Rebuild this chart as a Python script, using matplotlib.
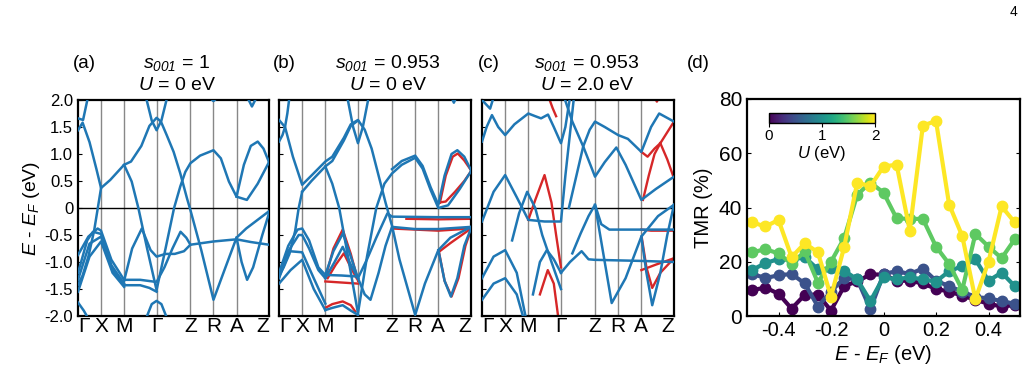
import matplotlib
matplotlib.use("Agg")
import matplotlib.pyplot as plt
import numpy as np
from matplotlib import cm, colors

plt.rcParams['font.family'] = ['Liberation Sans', 'DejaVu Sans']
plt.rcParams['mathtext.fontset'] = 'custom'
plt.rcParams['mathtext.rm'] = 'Liberation Sans:italic'
plt.rcParams['mathtext.it'] = 'Liberation Sans:italic'
plt.rcParams['axes.unicode_minus'] = False

# high symmetry path
kpts = [0, 1, 2, 3.41, 4.88, 5.88, 6.88, 8.29]
klabels = ['Γ', 'X', 'M', 'Γ', 'Z', 'R', 'A', 'Z']

# bands, (k, E) pairs
bands_a = [
    [(0, 1.44), (0.2, 1.58), (0.5, 1.22), (0.8, 0.72), (1.0, 0.37), (1.4, 0.52), (2.0, 0.8), (2.3, 0.86),
     (2.75, 1.15), (3.1, 1.52), (3.41, 1.67), (3.6, 1.6), (3.85, 1.35), (4.15, 1.04), (4.44, 0.64), (4.73, 0.18),
     (4.88, -0.04), (5.35, -0.78), (5.88, -1.7), (6.4, -1.1), (6.88, -0.55), (7.3, -0.38), (8.29, -0.06)],
    [(2.0, 0.8), (2.33, 0.49), (2.62, 0.0), (3.0, -0.75), (3.41, -1.52), (3.8, -0.75), (4.17, 0.0), (4.44, 0.4),
     (4.66, 0.67), (4.88, 0.83), (5.3, 0.97), (5.88, 1.07), (6.2, 0.92), (6.55, 0.49), (6.88, 0.21), (7.33, 0.15),
     (7.8, 0.45), (8.29, 0.85)],
    [(6.88, 0.21), (7.2, 0.8), (7.5, 1.15), (7.8, 1.23), (8.05, 1.1), (8.29, 0.85)],
    [(2.95, 2.05), (3.2, 1.62), (3.41, 1.44), (3.62, 1.62), (3.87, 2.05)],
    [(0, 1.66), (0.22, 1.63), (0.43, 2.05)],
    [(5.7, 2.05), (5.88, 1.98), (6.06, 2.05)],
    [(7.35, 2.05), (7.55, 1.88), (7.75, 2.05)],
    [(1.0, 0.37), (0.86, 0.0), (0.7, -0.42), (0.45, -0.9), (0.2, -1.25), (0, -1.42)],
    [(0, -0.87), (0.45, -0.53), (0.85, -0.38), (1.0, -0.42), (1.45, -0.96), (2.0, -1.33)],
    [(0, -1.2), (0.4, -0.6), (0.65, -0.44), (1.0, -0.48), (1.45, -1.06), (2.0, -1.4)],
    [(0, -1.33), (0.5, -0.66), (1.0, -0.53), (1.5, -1.15), (2.0, -1.43)],
    [(0, -1.55), (0.5, -0.9), (1.0, -0.62), (1.5, -1.2), (2.0, -1.46)],
    [(2.0, -1.33), (2.7, -1.33), (3.41, -1.37)],
    [(2.0, -1.43), (2.7, -1.43), (3.1, -1.48), (3.41, -1.55)],
    [(2.0, -1.35), (2.35, -0.75), (2.77, -0.38), (3.15, -0.78), (3.41, -0.9), (3.8, -0.85), (4.2, -0.85),
     (4.6, -0.8), (4.88, -0.68)],
    [(3.41, -1.37), (3.75, -1.1), (4.1, -0.75), (4.45, -0.44), (4.7, -0.55), (4.88, -0.68), (5.88, -0.62),
     (6.88, -0.58), (7.5, -0.63), (8.29, -0.68)],
    [(6.88, -0.55), (7.1, -1.0), (7.34, -1.33), (7.6, -1.1), (8.0, -0.5), (8.29, -0.1)],
    [(0, -1.75), (0.25, -1.9), (0.45, -2.05)],
    [(2.95, -2.05), (3.2, -1.78), (3.41, -1.72), (3.62, -1.78), (3.87, -2.05)],
]

bands_b_blue = [
    [(0, 1.63), (0.26, 1.5), (0.6, 0.95), (1.0, 0.43), (1.4, 0.6), (2.0, 0.86), (2.3, 0.95), (2.8, 1.3),
     (3.1, 1.55), (3.41, 1.63), (3.7, 1.45), (4.0, 1.1), (4.3, 0.6), (4.6, 0.1), (4.88, -0.33), (5.2, -0.95),
     (5.88, -1.98), (6.3, -1.4), (6.88, -0.78), (7.4, -0.55), (8.29, -0.35)],
    [(1.0, 0.3), (1.4, 0.5), (2.0, 0.77), (2.3, 0.87), (2.8, 1.25), (3.1, 1.52), (3.41, 1.62)],
    [(0, 1.23), (0.15, 1.35), (0.26, 1.5), (0.36, 1.75), (0.45, 2.05)],
    [(2.95, 2.05), (3.2, 1.5), (3.41, 1.2), (3.62, 1.5), (3.87, 2.05)],
    [(2.0, 0.77), (2.3, 0.45), (2.6, 0.0), (3.0, -0.95), (3.41, -1.95), (3.8, -0.9), (4.2, 0.0), (4.55, 0.45),
     (4.88, 0.64), (5.3, 0.8), (5.88, 0.93), (6.2, 0.73), (6.55, 0.33), (6.88, 0.0), (7.3, 0.05), (7.8, 0.35),
     (8.29, 0.68)],
    [(4.88, 0.72), (5.3, 0.87), (5.88, 0.97), (6.2, 0.78), (6.55, 0.38), (6.88, 0.06), (7.15, 0.6), (7.45, 1.0),
     (7.7, 1.07), (8.0, 0.95), (8.29, 0.7)],
    [(1.0, 0.3), (0.85, 0.0), (0.7, -0.42), (0.45, -0.85), (0.2, -1.1), (0, -1.25)],
    [(7.45, 2.05), (7.55, 1.95), (7.65, 2.05)],
    [(0, -1.2), (0.4, -0.7), (0.8, -0.4), (1.0, -0.38), (1.3, -0.6), (1.7, -1.1), (2.0, -1.24)],
    [(0, -1.28), (0.4, -0.8), (0.85, -0.5), (1.0, -0.5), (1.3, -0.75), (1.7, -1.15), (2.0, -1.3)],
    [(0, -1.3), (0.45, -0.8), (1.0, -0.82), (1.5, -1.3), (2.0, -1.77)],
    [(0, -1.4), (0.5, -1.15), (1.0, -0.96), (1.5, -1.5), (2.0, -1.89)],
    [(2.0, -1.24), (2.7, -1.25), (3.41, -1.27)],
    [(2.0, -1.24), (2.35, -0.8), (2.76, -0.47), (3.1, -0.9), (3.41, -1.3)],
    [(2.0, -1.3), (2.4, -1.0), (2.75, -0.72), (3.1, -1.05), (3.41, -1.3)],
    [(2.0, -1.89), (2.3, -1.85), (2.75, -1.8), (3.1, -1.9), (3.41, -1.98)],
    [(3.41, -1.3), (3.8, -0.95), (4.2, -0.55), (4.68, -0.1), (4.88, -0.16), (6.88, -0.17), (8.29, -0.17)],
    [(3.41, -1.3), (3.7, -1.6), (3.95, -1.7), (4.3, -1.2), (4.6, -0.7), (4.88, -0.35), (5.88, -0.39),
     (6.88, -0.39), (8.29, -0.35)],
    [(6.88, -0.78), (7.15, -1.35), (7.42, -1.64), (7.7, -1.3), (8.0, -0.7), (8.29, -0.38)],
]

bands_b_red = [
    [(6.9, 0.1), (7.2, 0.12), (7.6, 0.3), (8.0, 0.5), (8.29, 0.68)],
    [(6.95, 0.1), (7.2, 0.6), (7.5, 0.95), (7.72, 1.01), (8.0, 0.88), (8.29, 0.7)],
    [(2.0, -1.36), (2.7, -1.38), (3.41, -1.4)],
    [(2.0, -1.3), (2.35, -0.75), (2.75, -0.4), (3.1, -0.85), (3.41, -1.35)],
    [(2.1, -1.3), (2.45, -1.05), (2.8, -0.84), (3.1, -1.1), (3.35, -1.3)],
    [(2.0, -1.85), (2.3, -1.78), (2.75, -1.73), (3.1, -1.8), (3.3, -1.92)],
    [(5.5, -0.2), (6.88, -0.21), (8.29, -0.2)],
    [(4.88, -0.38), (6.88, -0.42), (8.29, -0.38)],
    [(6.88, -0.82), (7.4, -0.65), (8.29, -0.38)],
    [(6.9, -0.8), (7.15, -1.35), (7.45, -1.64), (7.75, -1.3), (8.05, -0.7), (8.29, -0.4)],
]

bands_c_blue = [
    [(0, 1.23), (0.2, 1.5), (0.43, 1.72), (0.7, 1.5), (1.0, 1.35), (1.4, 1.55), (2.0, 1.75), (2.3, 1.7),
     (2.55, 1.66), (2.85, 1.73), (3.1, 1.5), (3.41, 1.2), (3.6, 1.5), (3.8, 2.05)],
    [(0, 2.0), (0.35, 1.84), (0.5, 2.05)],
    [(3.55, 2.05), (3.9, 1.6), (4.37, 1.14), (4.88, 0.58), (5.3, 0.85), (5.8, 1.12), (6.2, 0.8), (6.88, 0.15),
     (7.5, 0.35), (8.29, 0.58)],
    [(3.75, 0.0), (4.05, 0.55), (4.37, 1.14), (4.65, 1.45), (4.88, 1.6), (5.3, 1.5), (5.88, 1.35), (6.3, 1.28),
     (6.88, 1.04), (7.3, 1.5), (7.65, 1.75), (8.29, 1.6)],
    [(0, -0.25), (0.5, 0.3), (1.0, 0.61), (1.5, 0.2), (2.0, -0.22), (2.7, -0.25), (3.41, -0.25), (3.6, 0.6),
     (3.97, 2.05)],
    [(1.3, -0.6), (1.6, -0.1), (1.95, 0.3), (2.3, 0.0), (2.6, -0.5), (3.0, -1.0), (3.41, -1.5)],
    [(3.9, -0.84), (4.26, -0.47), (4.6, -0.15), (4.88, 0.06), (5.15, -0.3), (5.5, -0.4), (6.88, -0.4),
     (8.29, -0.4)],
    [(3.41, -1.2), (3.8, -1.0), (4.3, -0.8), (4.6, -0.95), (4.88, -0.96), (6.88, -0.98), (8.29, -1.0)],
    [(4.88, 0.06), (5.2, -0.75), (5.6, -1.76), (6.2, -1.3), (6.88, -0.53), (7.6, -0.15), (8.29, 0.06)],
    [(0, -1.3), (0.5, -0.9), (1.0, -0.78), (1.5, -1.2), (1.9, -2.05)],
    [(0, -1.7), (0.5, -1.4), (1.0, -1.3), (1.5, -1.6), (1.8, -2.05)],
    [(2.2, -1.6), (2.5, -1.0), (2.8, -0.78), (3.1, -0.95), (3.41, -1.2)],
    [(6.88, -0.53), (7.1, -1.2), (7.35, -1.8), (7.7, -1.2), (8.0, -0.5), (8.29, 0.06)],
]

bands_c_red = [
    [(2.0, -0.22), (2.3, 0.15), (2.7, 0.61), (3.0, 0.1), (3.2, -0.5), (3.41, -1.1)],
    [(2.5, -1.6), (2.84, -1.15), (3.1, -1.4), (3.3, -2.05)],
    [(2.88, 2.05), (3.05, 1.85), (3.2, 1.7)],
    [(6.88, 1.04), (7.15, 0.95), (7.45, 1.1), (7.7, 1.2), (8.29, 1.6)],
    [(7.7, 1.2), (8.0, 0.9), (8.29, 0.55)],
    [(6.95, 0.15), (7.2, 0.6), (7.45, 1.0), (7.7, 1.2)],
    [(6.88, -0.4), (7.3, -0.42), (8.29, -0.42)],
    [(6.9, -0.55), (7.1, -1.1), (7.35, -1.48), (7.7, -1.2), (8.29, -0.93)],
    [(6.88, -1.15), (7.5, -1.05), (8.29, -0.93)],
    [(7.45, 2.05), (7.55, 1.97), (7.65, 2.05)],
]

# TMR data
energy = [-0.5, -0.45, -0.4, -0.35, -0.3, -0.25, -0.2, -0.15, -0.1, -0.05, 0.0,
          0.05, 0.1, 0.15, 0.2, 0.25, 0.3, 0.35, 0.4, 0.45, 0.5]
U_vals = [0, 0.5, 1.0, 1.5, 2.0]
tmr_u0 = [9.5, 10.5, 8.2, 2.7, 7.8, 7.9, 2.0, 11.0, 12.8, 15.3, 15.3, 13.0, 13.0, 12.0, 10.0, 9.0, 7.5, 6.0, 4.5, 3.5, 4.0]
tmr_u05 = [15.5, 14.0, 15.0, 15.5, 12.0, 3.5, 9.0, 14.0, 13.5, 2.5, 15.5, 16.5, 15.5, 17.5, 13.0, 11.0, 9.0, 7.0, 6.5, 5.5, 4.5]
tmr_u1 = [17.0, 19.5, 21.0, 20.7, 21.7, 17.2, 17.6, 16.7, 13.5, 5.5, 14.3, 13.5, 14.3, 13.5, 12.7, 16.5, 18.4, 20.9, 13.0, 16.0, 11.0]
tmr_u15 = [23.5, 24.6, 23.1, 19.2, 23.8, 12.3, 20.0, 28.7, 44.7, 49.2, 45.5, 36.0, 35.8, 35.8, 25.6, 19.2, 9.6, 30.3, 25.6, 21.3, 28.3]
tmr_u2 = [34.5, 33.0, 35.4, 21.7, 26.8, 23.5, 7.1, 25.4, 49.2, 47.8, 55.1, 55.8, 31.5, 70.2, 71.9, 41.1, 29.5, 6.2, 20.0, 40.4, 34.5]
tmr_all = [tmr_u0, tmr_u05, tmr_u1, tmr_u15, tmr_u2]

W, H = 1028, 377
fig = plt.figure(figsize=(W / 100, H / 100), dpi=100)

def box(x0, y0, x1, y1):
    return [x0 / W, 1 - y1 / H, (x1 - x0) / W, (y1 - y0) / H]

blue = '#1f77b4'
red = '#d62728'

def band_panel(rect, blue_bands, red_bands, show_y):
    ax = fig.add_axes(rect)
    for k in kpts[1:-1]:
        ax.axvline(k, color='#888888', lw=1.0, zorder=1)
    ax.axhline(0, color='black', lw=1.0, zorder=1)
    for b in red_bands:
        k, e = zip(*b)
        ax.plot(k, e, color=red, lw=1.7, zorder=2)
    for b in blue_bands:
        k, e = zip(*b)
        ax.plot(k, e, color=blue, lw=1.8, zorder=3)
    ax.set_xlim(kpts[0], kpts[-1])
    ax.set_ylim(-2, 2)
    ax.set_xticks(kpts)
    labs = ax.set_xticklabels(klabels, fontsize=15)
    labs[0].set_ha('left')
    labs[-1].set_ha('right')
    ax.tick_params(axis='x', length=0, pad=1)
    ax.set_yticks(np.arange(-2, 2.01, 0.5))
    if show_y:
        ax.set_yticklabels(['-2.0', '-1.5', '-1.0', '-0.5', '0', '0.5', '1.0', '1.5', '2.0'], fontsize=12)
    else:
        ax.set_yticklabels([])
    ax.tick_params(axis='y', direction='in', length=3)
    for s in ax.spines.values():
        s.set_linewidth(1.6)
    return ax

ax_a = band_panel(box(78, 100, 269, 316), bands_a, [], True)
ax_a.set_ylabel('$E$ - $E_F$ (eV)', fontsize=14, labelpad=2)
band_panel(box(279, 100, 471, 316), bands_b_blue, bands_b_red, False)
band_panel(box(482, 100, 674, 316), bands_c_blue, bands_c_red, False)

def ftext(x, y, s, **kw):
    fig.text(x / W, 1 - y / H, s, **kw)

ftext(73, 64, '(a)', fontsize=13.5, va='center')
ftext(273, 64, '(b)', fontsize=13.5, va='center')
ftext(478, 64, '(c)', fontsize=13.5, va='center')
ftext(687, 64, '(d)', fontsize=13.5, va='center')
titles = [(177, '1', '0'), (388, '0.953', '0'), (587, '0.953', '2.0')]
for x, s, u in titles:
    ftext(x, 63, '$s_{001}$ = ' + s, fontsize=14, ha='center', va='center')
    ftext(x, 86, '$U$ = ' + u + ' eV', fontsize=14, ha='center', va='center')
ftext(1013, 12, '4', fontsize=10, ha='center', va='center')

# TMR panel
ax_d = fig.add_axes(box(747, 99, 1020, 316))
cmap = plt.get_cmap('viridis')
norm = colors.Normalize(vmin=0, vmax=2)
for u, t in zip(U_vals, tmr_all):
    ax_d.plot(energy, t, '-o', color=cmap(norm(u)), lw=3, ms=7.5)
ax_d.set_xlim(-0.52, 0.52)
ax_d.set_ylim(0, 80)
ax_d.set_xticks([-0.4, -0.2, 0, 0.2, 0.4])
ax_d.set_xticklabels(['-0.4', '-0.2', '0', '0.2', '0.4'], fontsize=14.5)
ax_d.set_yticks([0, 20, 40, 60, 80])
ax_d.set_yticklabels(['0', '20', '40', '60', '80'], fontsize=15)
ax_d.tick_params(direction='in', length=3, right=True)
ax_d.set_xlabel('$E$ - $E_F$ (eV)', fontsize=14.5, labelpad=2)
ax_d.set_ylabel('TMR (%)', fontsize=14.5, labelpad=4)
for s in ax_d.spines.values():
    s.set_linewidth(1.6)

cax = fig.add_axes(box(769, 113, 875, 123))
cb = fig.colorbar(cm.ScalarMappable(norm=norm, cmap=cmap), cax=cax, orientation='horizontal')
cb.set_ticks([0, 1, 2])
cb.set_ticklabels(['0', '1', '2'])
cb.ax.tick_params(labelsize=11, direction='out', length=3, pad=1)
cb.set_label('$U$ (eV)', fontsize=12, labelpad=1)
cb.outline.set_linewidth(1.0)

fig.savefig('out.png', dpi=100)
